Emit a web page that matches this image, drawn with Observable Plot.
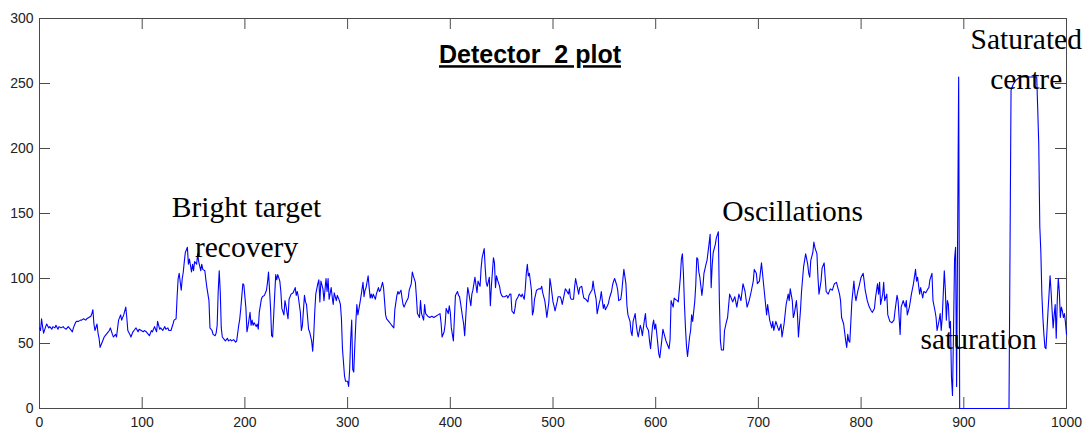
<!DOCTYPE html>
<html><head><meta charset="utf-8">
<script src="https://cdn.jsdelivr.net/npm/d3@7"></script>
<script src="https://cdn.jsdelivr.net/npm/@observablehq/plot@0.6"></script>
<style>
html,body{margin:0;padding:0;background:#fff;overflow:hidden;}
</style></head><body><div id="chart"></div>
<script>
// [sample index, detector value]
const samples = [
[0,62],[1,60],[2,69],[3,63],[4,58],[6,63],[7,65],[9,62],[10,63],[12,61],[13,63],[15,62],[16,64],[18,61],[19,63],[21,62],[23,63],[24,62],[26,61],[28,63],[30,61],[32,59],[33,62],[35,66],[36,67],[38,67],[40,68],[41,68],[43,69],[45,68],[46,69],[48,70],[50,71],[51,73],[52,76],[53,65],[54,60],[56,65],[57,58],[58,54],[59,47],[61,51],[63,55],[64,56],[66,58],[68,60],[69,62],[71,57],[72,55],[74,57],[75,55],[77,68],[79,72],[80,68],[82,72],[84,78],[85,70],[86,60],[88,57],[89,55],[91,59],[92,60],[94,62],[96,59],[97,61],[99,60],[101,59],[102,60],[104,59],[106,57],[107,56],[109,60],[110,59],[112,63],[114,59],[115,67],[117,61],[118,62],[120,60],[122,63],[123,61],[125,62],[126,60],[128,60],[130,65],[131,68],[133,69],[134,86],[135,100],[136,104],[138,91],[139,100],[140,105],[141,113],[142,120],[144,124],[145,111],[146,115],[148,105],[149,111],[150,106],[151,113],[153,111],[154,119],[155,113],[157,106],[158,111],[159,107],[161,106],[162,99],[163,93],[165,83],[166,62],[168,60],[169,57],[171,56],[172,58],[173,64],[174,90],[175,106],[176,90],[177,62],[178,55],[180,53],[181,52],[183,54],[184,52],[186,53],[187,52],[189,53],[191,51],[192,52],[194,64],[195,69],[196,77],[198,96],[199,95],[201,77],[202,59],[203,63],[205,74],[206,64],[207,68],[208,64],[209,66],[211,63],[212,65],[213,61],[214,74],[216,84],[217,86],[219,87],[221,91],[222,97],[223,105],[225,77],[226,56],[227,55],[229,87],[230,103],[231,99],[232,103],[234,98],[235,90],[236,77],[238,72],[239,83],[240,79],[242,69],[243,84],[245,88],[247,89],[249,93],[250,87],[251,90],[252,86],[254,74],[255,60],[256,64],[258,87],[259,82],[260,80],[262,61],[263,59],[265,52],[266,44],[267,56],[268,74],[269,88],[271,96],[272,99],[273,82],[274,98],[276,92],[277,83],[279,100],[280,90],[281,100],[282,84],[284,93],[285,86],[286,80],[287,89],[289,83],[290,87],[292,83],[293,80],[294,69],[295,46],[297,25],[298,21],[300,21],[301,17],[302,30],[303,53],[304,68],[305,30],[306,28],[307,48],[308,66],[309,80],[310,72],[312,81],[313,86],[315,97],[316,86],[317,91],[318,93],[320,102],[321,93],[322,85],[323,88],[324,85],[325,88],[327,84],[328,88],[330,93],[331,90],[332,91],[334,97],[335,93],[337,72],[338,69],[340,67],[342,65],[343,64],[345,62],[346,76],[348,87],[349,90],[350,88],[352,91],[353,85],[354,80],[355,78],[357,82],[359,85],[360,91],[362,96],[363,105],[364,102],[366,97],[367,86],[368,73],[370,70],[371,83],[372,73],[374,68],[375,80],[376,73],[378,71],[380,70],[382,71],[384,70],[386,71],[388,72],[390,73],[391,66],[392,55],[394,59],[395,65],[396,77],[398,73],[399,79],[400,74],[401,62],[403,52],[404,70],[405,87],[407,90],[408,87],[409,86],[410,81],[412,70],[413,65],[414,56],[416,83],[417,93],[418,89],[420,79],[421,88],[422,91],[424,101],[425,95],[426,89],[427,98],[429,94],[430,108],[431,116],[433,123],[434,108],[435,97],[436,94],[438,101],[439,79],[440,94],[442,116],[443,112],[444,93],[445,102],[446,99],[448,94],[449,89],[450,87],[451,86],[453,86],[455,87],[456,85],[458,88],[459,88],[460,75],[462,73],[463,77],[464,83],[466,86],[467,88],[469,86],[470,88],[472,84],[473,92],[474,104],[475,111],[476,102],[477,104],[479,91],[480,72],[481,75],[482,84],[484,91],[486,92],[488,92],[489,94],[490,89],[492,83],[493,77],[494,70],[496,82],[497,100],[498,95],[500,82],[501,79],[502,75],[504,82],[505,86],[507,86],[508,84],[509,80],[511,88],[512,92],[513,91],[515,88],[516,92],[517,85],[518,84],[520,84],[521,93],[522,100],[524,92],[525,88],[526,93],[528,94],[529,89],[530,85],[532,84],[533,83],[534,82],[535,87],[537,90],[538,91],[539,98],[540,92],[542,84],[543,73],[545,81],[546,84],[547,90],[549,77],[550,80],[551,76],[553,79],[554,81],[555,85],[557,90],[558,95],[559,98],[560,100],[562,95],[563,91],[564,83],[566,84],[567,90],[568,99],[569,107],[571,96],[572,79],[573,72],[575,67],[576,59],[577,56],[578,67],[580,73],[581,65],[582,59],[583,55],[585,64],[586,61],[587,56],[589,68],[590,73],[591,63],[593,60],[594,52],[595,46],[597,64],[598,68],[599,61],[600,65],[601,58],[603,42],[604,39],[606,53],[607,61],[608,58],[610,52],[611,50],[613,46],[614,53],[615,83],[617,78],[618,85],[619,84],[621,83],[622,82],[624,101],[625,115],[626,119],[627,104],[628,80],[629,62],[630,48],[631,40],[633,55],[634,60],[635,72],[636,67],[638,82],[639,95],[640,116],[641,115],[642,105],[643,101],[645,87],[646,94],[647,104],[649,111],[650,114],[652,127],[653,134],[654,93],[655,110],[656,120],[658,126],[659,131],[661,136],[662,83],[663,52],[664,45],[666,45],[667,60],[669,67],[670,70],[672,88],[674,84],[675,82],[677,86],[679,78],[681,88],[683,83],[685,96],[687,90],[689,78],[691,83],[693,90],[695,98],[696,107],[698,104],[699,96],[701,98],[703,112],[705,96],[707,80],[708,72],[709,80],[711,68],[713,62],[714,67],[715,60],[717,67],[719,62],[720,60],[722,65],[723,55],[725,65],[727,80],[729,88],[730,83],[731,92],[733,83],[734,70],[735,73],[737,83],[738,73],[739,55],[741,76],[742,90],[744,109],[745,114],[746,119],[748,111],[749,104],[750,101],[751,114],[753,120],[754,128],[755,124],[757,119],[758,101],[759,88],[761,98],[762,108],[764,112],[765,101],[766,90],[768,88],[770,92],[772,91],[774,96],[776,97],[777,94],[779,88],[780,83],[781,70],[783,65],[785,52],[786,47],[787,57],[788,52],[789,51],[791,82],[793,98],[794,88],[795,83],[797,91],[798,94],[800,101],[802,104],[803,98],[804,91],[806,83],[808,78],[810,75],[811,74],[813,77],[814,85],[816,96],[817,88],[818,97],[819,80],[821,88],[822,97],[823,83],[825,88],[826,72],[828,67],[830,66],[832,68],[833,75],[835,87],[836,83],[838,57],[839,78],[841,83],[843,78],[844,83],[845,72],[847,78],[849,88],[851,96],[853,107],[854,98],[855,101],[857,88],[858,93],[860,85],[861,90],[863,89],[865,92],[866,93],[867,99],[869,104],[870,83],[872,75],[873,70],[874,60],[876,68],[877,73],[878,60],[879,70],[881,106],[882,92],[883,68],[884,83],[885,80],[886,62],[887,67],[888,24],[889,10],[890,60],[891,115],[892,124],[893,17],[894,135],[895,255],[896,0],[944,0],[945,121],[946,245],[948,249],[950,252],[953,254],[956,255],[971,255],[972,230],[973,203],[974,140],[975,121],[976,88],[977,70],[978,57],[979,47],[980,46],[981,60],[982,75],[983,88],[984,102],[985,90],[986,75],[987,62],[988,72],[989,80],[990,54],[991,83],[992,100],[993,90],[994,70],[995,78],[996,75],[997,70],[998,73],[999,66],[1000,57]
];

const xTicks = [0, 100, 200, 300, 400, 500, 600, 700, 800, 900, 1000];
const yTicks = [0, 50, 100, 150, 200, 250, 300];

const titleText = "Detector  2 plot";

// annotations placed in data units (sample index, value at text baseline)
const notesCentered = [
  {text: "Bright target\nrecovery", x: 201.6, y: 116.4},
  {text: "Saturated\ncentre", x: 960.8, y: 245.9}
];
const notesLeft = [
  {text: "Oscillations", x: 664.7, y: 144.6},
  {text: "saturation", x: 857.8, y: 45.9}
];

const axisColor = "#4a4a4a";
const sans = "'Liberation Sans', Arial, Helvetica, sans-serif";
const serif = "'Liberation Serif', 'Times New Roman', Times, serif";

const plot = Plot.plot({
  width: 1085,
  height: 430,
  marginLeft: 39,
  marginRight: 19,
  marginTop: 18,
  marginBottom: 22,
  style: {fontFamily: sans, fontSize: "14px", color: "#222", background: "#fff", overflow: "visible"},
  x: {domain: [0, 1000]},
  y: {domain: [0, 300]},
  marks: [
    Plot.frame({stroke: axisColor, strokeWidth: 1}),
    Plot.tickX(xTicks, {x: d => d, insetTop: 379, stroke: axisColor}),
    Plot.tickX(xTicks, {x: d => d, insetBottom: 379, stroke: axisColor}),
    Plot.tickY(yTicks, {y: d => d, insetRight: 1016, stroke: axisColor}),
    Plot.tickY(yTicks, {y: d => d, insetLeft: 1016, stroke: axisColor}),
    Plot.line(samples, {x: d => d[0], y: d => d[1], stroke: "#0000ff", strokeWidth: 1.1}),
    Plot.axisX({ticks: xTicks, tickSize: 0, tickPadding: 9, fontSize: 14, label: null, tickFormat: d => String(d)}),
    Plot.axisY({ticks: yTicks, tickSize: 0, tickPadding: 6, fontSize: 14, label: null, tickFormat: d => String(d)}),
    Plot.text([titleText], {frameAnchor: "top", dx: -23, dy: 44.7, text: d => d, lineAnchor: "bottom",
      fontFamily: sans, fontSize: 25, fontWeight: "bold", fill: "#000"}),
    Plot.text(notesCentered, {x: "x", y: "y", text: "text", textAnchor: "middle", lineAnchor: "bottom",
      lineHeight: 1.36, fontFamily: serif, fontSize: 29.5, fill: "#000"}),
    Plot.text(notesLeft, {x: "x", y: "y", text: "text", textAnchor: "start", lineAnchor: "bottom",
      fontFamily: serif, fontSize: 29.5, fill: "#000"})
  ]
});

d3.select(plot).selectAll("text")
  .filter(function() { return this.textContent === titleText; })
  .each(function() {
    this.setAttributeNS("http://www.w3.org/XML/1998/namespace", "xml:space", "preserve");
    this.style.whiteSpace = "pre";
    this.style.textDecoration = "underline";
  });

document.getElementById("chart").appendChild(plot);
</script>
</body></html>
